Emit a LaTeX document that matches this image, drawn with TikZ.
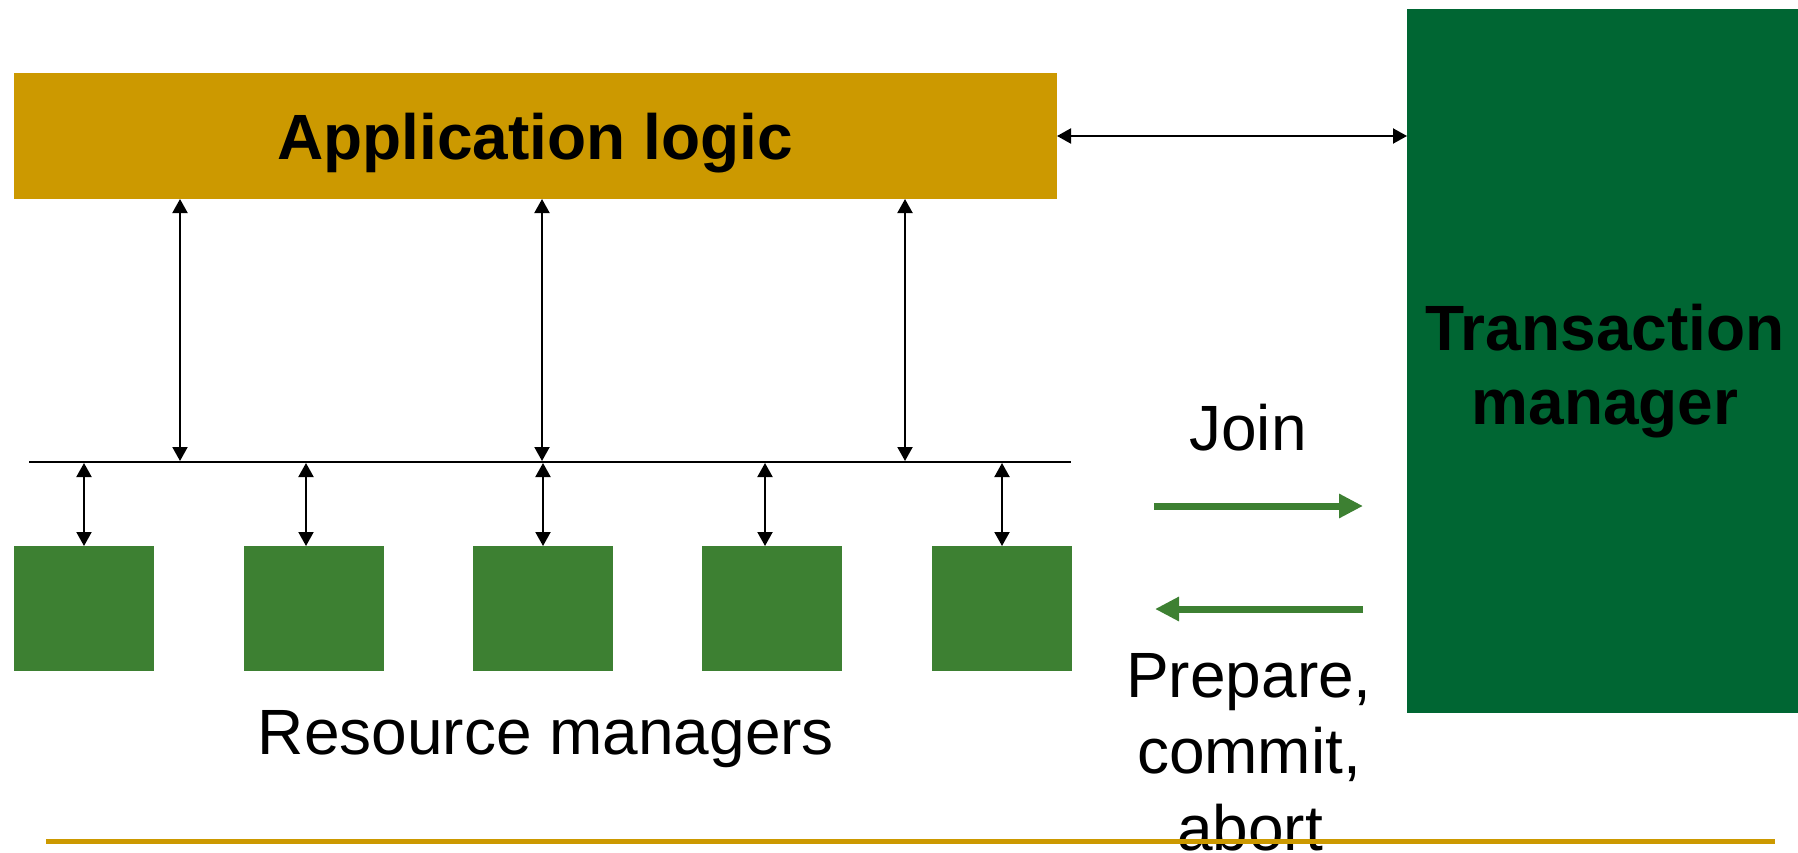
\documentclass[tikz,border=0pt]{standalone}
\usepackage{fontspec}
\setmainfont{Liberation Sans}
\usetikzlibrary{arrows.meta}
\definecolor{appgold}{RGB}{204,153,0}
\definecolor{tmgreen}{RGB}{0,102,51}
\definecolor{rmgreen}{RGB}{61,128,50}
\tikzset{
  box/.style={draw=none, inner sep=0pt, outer sep=0pt},
  rmbox/.style={box, fill=rmgreen, minimum width=140pt, minimum height=125pt},
  dbl/.style={line width=2pt, {Triangle[width=15pt,length=14pt]}-{Triangle[width=15pt,length=14pt]}},
  garrow/.style={line width=7pt, draw=rmgreen, -{Triangle[width=23pt,length=24pt]}},
  bigtext/.style={inner sep=0pt, font=\fontsize{64}{74}\selectfont},
  boldtext/.style={inner sep=0pt, font=\fontsize{64}{74}\selectfont\bfseries}
}
\begin{document}
\begin{tikzpicture}[x=1pt,y=-1pt]
\useasboundingbox (0,0) rectangle (1798,853);
% main boxes
\node[box, fill=appgold, minimum width=1043pt, minimum height=126pt] (app) at (535.5,136) {};
\node[boldtext, anchor=base] (apptext) at (535,160) {Application logic};
\node[box, fill=tmgreen, minimum width=391pt, minimum height=704pt] (tm) at (1602.5,361) {};
\node[boldtext, anchor=base] (tm1) at (1605,350) {Transaction};
\node[boldtext, anchor=base] (tm2) at (1605,424) {manager};
% resource managers
\node[rmbox] (rm1) at (84,608.5) {};
\node[rmbox] (rm2) at (314,608.5) {};
\node[rmbox] (rm3) at (543,608.5) {};
\node[rmbox] (rm4) at (772,608.5) {};
\node[rmbox] (rm5) at (1002,608.5) {};
\node[bigtext, anchor=base] (rmlabel) at (546,754.5) {Resource managers};
% bus
\coordinate (busl) at (29,462);
\coordinate (busr) at (1071,462);
\draw[line width=2pt] (busl) -- (busr);
% app to bus arrows
\coordinate (a1) at (180,461);
\coordinate (a2) at (542,461);
\coordinate (a3) at (905,461);
\foreach \c in {a1,a2,a3} \draw[dbl] (\c |- app.south) -- (\c);
% bus to RM arrows
\coordinate (c1) at (84,463);
\coordinate (c2) at (306,463);
\coordinate (c3) at (543,463);
\coordinate (c4) at (765,463);
\coordinate (c5) at (1002,463);
\foreach \c/\r in {c1/rm1,c2/rm2,c3/rm3,c4/rm4,c5/rm5} \draw[dbl] (\c) -- (\c |- \r.north);
% app to TM
\draw[dbl] (app.east) -- (app.east -| tm.west);
% join / prepare arrows
\coordinate (j1) at (1154,506);
\coordinate (j2) at (1363,506);
\coordinate (p1) at (1363,609);
\coordinate (p2) at (1155,609);
\draw[garrow] (j1) -- (j2);
\draw[garrow] (p1) -- (p2);
\node[bigtext, anchor=base] (join) at (1248,450) {Join};
\node[bigtext, anchor=base] (prep) at (1249,697) {Prepare,};
\node[bigtext, anchor=base] (comm) at (1249,773) {commit,};
\node[bigtext, anchor=base] (abrt) at (1250,850) {abort};
% bottom rule
\coordinate (rl) at (46,841.5);
\coordinate (rr) at (1775,841.5);
\draw[line width=5pt, draw=appgold] (rl) -- (rr);
\end{tikzpicture}
\end{document}
